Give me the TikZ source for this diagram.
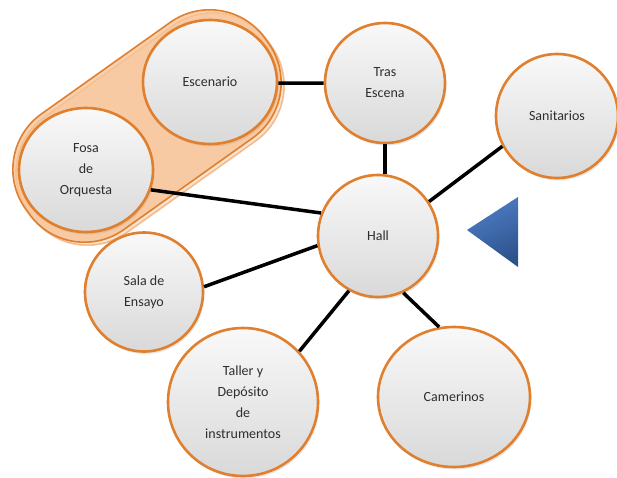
\documentclass[tikz,border=0pt]{standalone}
\usepackage{fontspec}
\setmainfont{Carlito}
\usetikzlibrary{shapes.geometric,shadows}
\definecolor{bord}{HTML}{E07F2E}
\definecolor{txt}{HTML}{2E2E2E}
\definecolor{orfill}{HTML}{F7C294}
\definecolor{blu}{HTML}{3F73C2}
\begin{document}
\begin{tikzpicture}[x=1pt,y=-1pt,
  room/.style={ellipse, draw=bord, line width=2.6pt, top color=gray!5, bottom color=gray!30,
    align=center, text=txt, font=\fontsize{14}{21}\selectfont, inner sep=0pt,
    drop shadow={opacity=0.18, shadow xshift=1.5pt, shadow yshift=-2.5pt}},
  link/.style={line width=3.5pt, black},
  group/.style={rectangle, rounded corners=68pt, minimum width=294pt, minimum height=142pt,
    rotate=35.4, draw=bord, line width=1.6pt, fill=orfill, fill opacity=.75}]
\useasboundingbox (0,0) rectangle (617,477);
% orange grouping band
\node[group, opacity=.45] (bandshadow) at (150,129) {};
\node[group] (band) at (147,126) {};
% rooms
\node[room, minimum width=134pt, minimum height=124pt] (esc) at (210,82) {Escenario};
\node[room, minimum width=134pt, minimum height=124pt] (fosa) at (86,170) {Fosa\\de\\Orquesta};
\node[room, minimum width=120pt, minimum height=120pt] (tras) at (385,83) {Tras\\Escena};
\node[room, minimum width=122pt, minimum height=124pt] (sani) at (557,116) {Sanitarios};
\node[room, minimum width=120pt, minimum height=122pt] (hall) at (378,236) {Hall};
\node[room, minimum width=118pt, minimum height=119pt] (sala) at (144,292) {Sala de\\Ensayo};
\node[room, minimum width=150pt, minimum height=148pt] (taller) at (243,402) {Taller y\\Depósito\\de\\instrumentos};
\node[room, minimum width=152pt, minimum height=140pt] (cam) at (454,397) {Camerinos};
% connectors
\draw[link] (esc.-1) -- (tras.180);
\draw[link] (tras.south) -- (tras.south |- hall.north);
\draw[link] (sani.209) -- (hall.34);
\draw[link] (fosa.-17) -- (hall.158);
\draw[link] (sala.5) -- (hall.189);
\draw[link] (taller.42) -- (hall.242);
\draw[link] (cam.102) -- (hall.294);
% blue triangle
\shade[top color=blu!92!white, bottom color=blu!72!black, shading angle=25]
  (467,230) -- (518,197) -- (518,267) -- cycle;
\end{tikzpicture}
\end{document}
